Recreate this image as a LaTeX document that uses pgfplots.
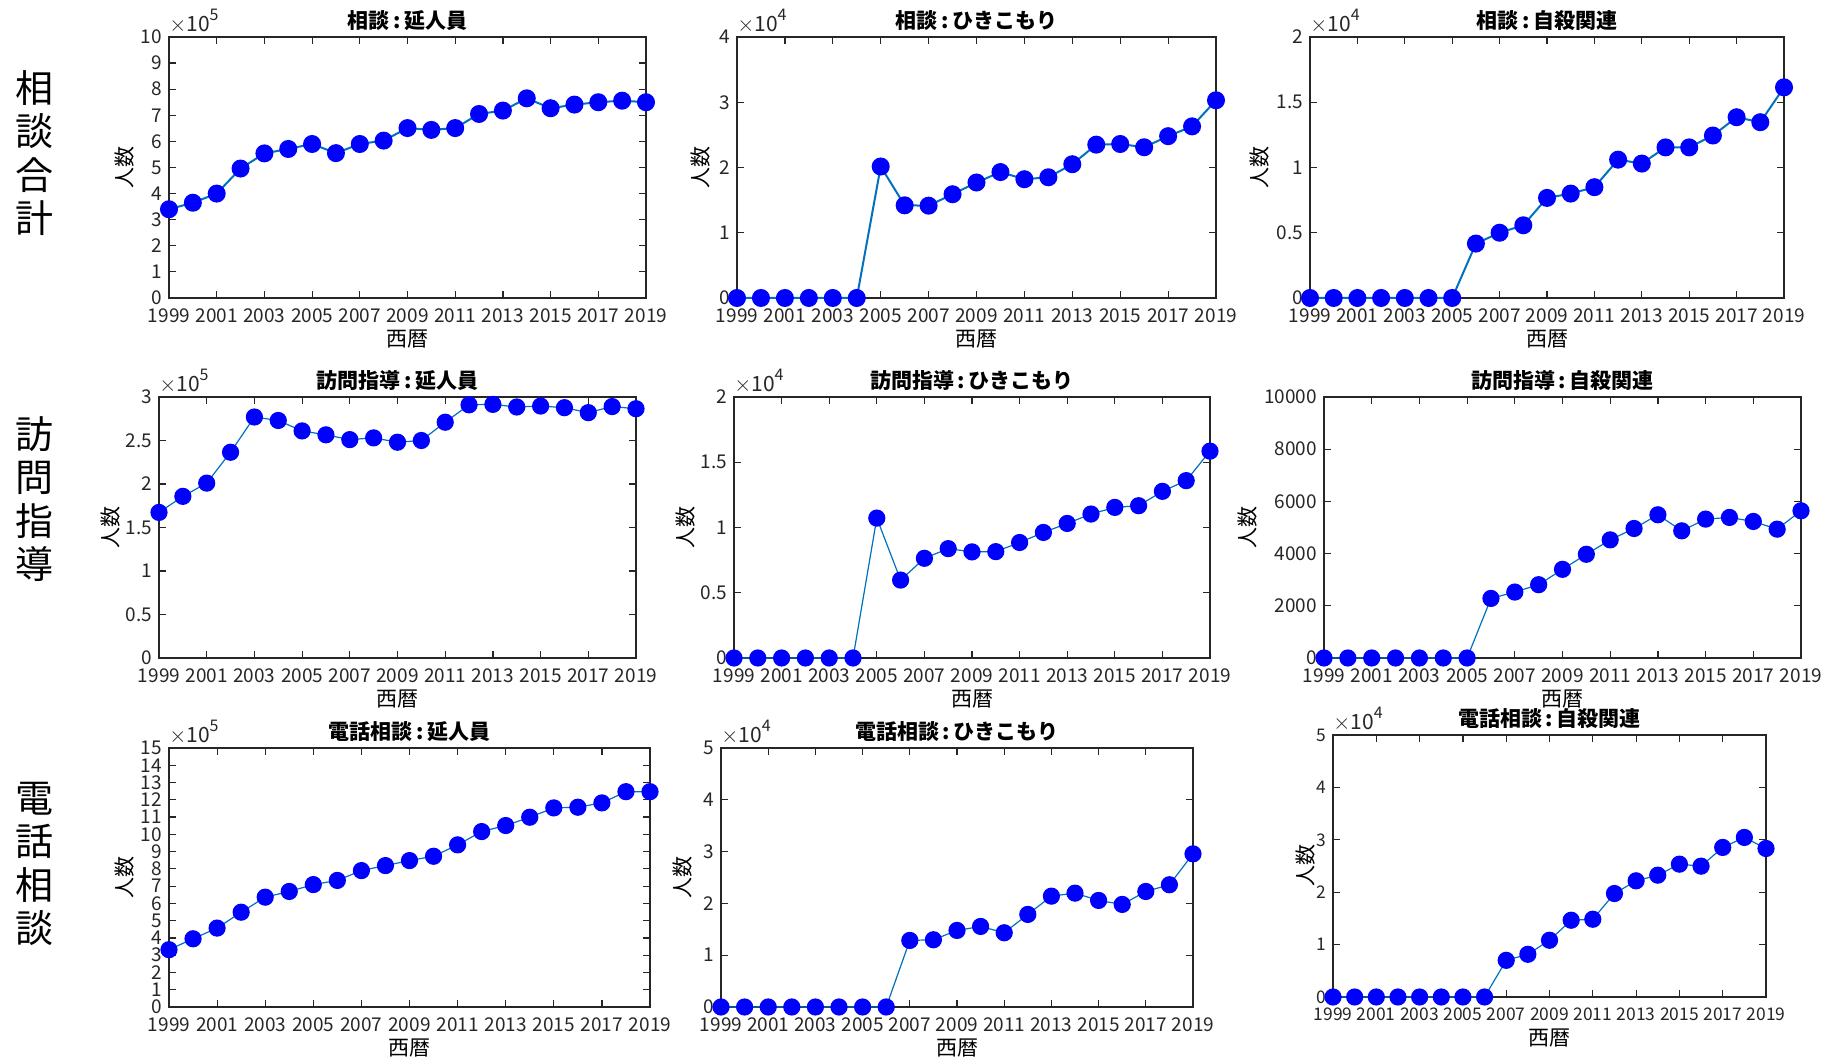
\documentclass[border=0pt]{standalone}
\usepackage{pgfplots}
\pgfplotsset{compat=1.18}
\usepackage{pgfplotstable}
\usepackage{fontspec}
\setmainfont{Noto Sans CJK JP}
\definecolor{mblue}{RGB}{0,0,255}
\definecolor{mline}{RGB}{0,114,189}
\definecolor{axg}{RGB}{38,38,38}

\pgfplotstableread{
year s1 s2 s3 s4 s5 s6 s7 s8 s9
1999 340000 0 0 167300 0 0 332000 0 0
2000 365000 0 0 185800 0 0 395000 0 0
2001 400000 0 0 201000 0 0 457000 0 0
2002 496000 0 0 236500 0 0 549000 0 0
2003 554000 0 0 277000 0 0 636000 0 0
2004 571000 0 0 273000 0 0 669000 0 0
2005 590000 20150 0 261000 10720 0 709000 0 0
2006 555000 14200 4170 256500 5970 2282 733000 0 0
2007 590000 14150 5000 251000 7640 2526 790000 12850 7000
2008 603000 15900 5570 253000 8380 2808 819000 12980 8150
2009 651000 17700 7670 248000 8130 3397 848000 14780 10830
2010 644000 19300 8000 250000 8150 3974 873000 15550 14650
2011 651000 18200 8490 271000 8850 4526 939000 14330 14840
2012 705000 18500 10600 291000 9620 4962 1016000 17870 19750
2013 718000 20500 10300 291500 10310 5487 1051000 21400 22170
2014 765000 23500 11540 288500 11030 4872 1099000 21980 23250
2015 727000 23600 11540 289600 11540 5321 1153000 20570 25350
2016 741000 23100 12450 287700 11670 5385 1157000 19800 24970
2017 750000 24800 13850 282000 12770 5231 1182000 22300 28540
2018 756000 26300 13470 289000 13590 4936 1247000 23600 30450
2019 750000 30300 16140 286500 15850 5641 1247000 29560 28340
}\data

\newcommand{\tkfont}{\fontsize{9.5}{10}\selectfont}
\pgfplotsset{
  mat/.style={
    scale only axis, clip=false,
    xmin=1999, xmax=2019, ymin=0,
    xtick={1999,2001,2003,2005,2007,2009,2011,2013,2015,2017,2019},
    tick align=inside, major tick length=3.5pt,
    axis line style={draw=axg},
    every tick/.style={draw=axg, line width=0.6pt},
    /pgf/number format/assume math mode=true,
    /pgf/number format/1000 sep={},
    tick label style={font=\tkfont, text=axg},
    x tick label style={yshift=-2pt},
    every axis title/.style={at={(rel axis cs:0.5,1)}, anchor=center, yshift=8pt, font=\fontsize{10.5}{12}\selectfont\bfseries},
    every axis x label/.style={at={(rel axis cs:0.5,0)}, anchor=center, yshift=-20.5pt, font=\fontsize{10.5}{12}\selectfont},
    every axis y label/.style={at={(rel axis cs:0,0.5)}, rotate=90, anchor=center, font=\fontsize{10.5}{12}\selectfont},
    xlabel={西暦}, ylabel={人数},
    ytick scale label code/.code={$\times$10\raisebox{1.0ex}{\fontsize{8}{8}\selectfont ##1}},
    every y tick scale label/.style={at={(rel axis cs:0,1)}, anchor=south west, inner sep=0pt, yshift=1.5pt, font=\fontsize{10.5}{11}\selectfont, text=axg},
  },
  ser/.style={color=mline, mark=*, mark size=4pt, mark options={draw=mblue, fill=mblue}},
}

\begin{document}
\begin{tikzpicture}
\path[use as bounding box] (0,0) rectangle (916pt,532pt);

% Row 1
\begin{axis}[mat, at={(84.5pt,383pt)}, anchor=south west, width=238.5pt, height=130.5pt,
  axis line style={line width=0.8pt},
  ymax=1000000, ytick={0,100000,200000,300000,400000,500000,600000,700000,800000,900000,1000000},
  scaled y ticks=base 10:-5, title={相談\,:\,延人員}, ylabel style={yshift=22pt}]
\addplot[ser, line width=1pt] table[x=year,y=s1]{\data};
\end{axis}
\begin{axis}[mat, at={(368.5pt,383pt)}, anchor=south west, width=239.5pt, height=130.5pt,
  axis line style={line width=0.8pt},
  ymax=40000, ytick={0,10000,20000,30000,40000},
  scaled y ticks=base 10:-4, title={相談\,:\,ひきこもり}, ylabel style={yshift=18pt}]
\addplot[ser, line width=1pt] table[x=year,y=s2]{\data};
\end{axis}
\begin{axis}[mat, at={(655pt,383pt)}, anchor=south west, width=237pt, height=130.5pt,
  axis line style={line width=0.8pt},
  ymax=20000, ytick={0,5000,10000,15000,20000},
  scaled y ticks=base 10:-4, title={相談\,:\,自殺関連}, ylabel style={yshift=25pt}]
\addplot[ser, line width=1pt] table[x=year,y=s3]{\data};
\end{axis}

% Row 2
\begin{axis}[mat, at={(79.5pt,203pt)}, anchor=south west, width=238.5pt, height=130.5pt,
  axis line style={line width=0.6pt},
  ymax=300000, ytick={0,50000,100000,150000,200000,250000,300000},
  scaled y ticks=base 10:-5, title={訪問指導\,:\,延人員}, ylabel style={yshift=24pt}]
\addplot[ser, line width=0.6pt] table[x=year,y=s4]{\data};
\end{axis}
\begin{axis}[mat, at={(367pt,203pt)}, anchor=south west, width=238pt, height=130.5pt,
  axis line style={line width=0.6pt},
  ymax=20000, ytick={0,5000,10000,15000,20000},
  scaled y ticks=base 10:-4, title={訪問指導\,:\,ひきこもり}, ylabel style={yshift=24pt}]
\addplot[ser, line width=0.6pt] table[x=year,y=s5]{\data};
\end{axis}
\begin{axis}[mat, at={(662pt,203pt)}, anchor=south west, width=238.5pt, height=130.5pt,
  axis line style={line width=0.6pt},
  ymax=10000, ytick={0,2000,4000,6000,8000,10000},
  scaled y ticks=false, title={訪問指導\,:\,自殺関連}, ylabel style={yshift=38pt}]
\addplot[ser, line width=0.6pt] table[x=year,y=s6]{\data};
\end{axis}

% Row 3
\begin{axis}[mat, at={(84.5pt,28.5pt)}, anchor=south west, width=240.5pt, height=129.5pt,
  axis line style={line width=0.6pt},
  ymax=1500000, ytick={0,100000,200000,300000,400000,500000,600000,700000,800000,900000,1000000,1100000,1200000,1300000,1400000,1500000},
  scaled y ticks=base 10:-5, title={電話相談\,:\,延人員}, ylabel style={yshift=22pt}]
\addplot[ser, line width=0.6pt] table[x=year,y=s7]{\data};
\end{axis}
\begin{axis}[mat, at={(360.5pt,28.5pt)}, anchor=south west, width=236pt, height=129.5pt,
  axis line style={line width=0.6pt},
  ymax=50000, ytick={0,10000,20000,30000,40000,50000},
  scaled y ticks=base 10:-4, title={電話相談\,:\,ひきこもり}, ylabel style={yshift=19pt}]
\addplot[ser, line width=0.6pt] table[x=year,y=s8]{\data};
\end{axis}
\begin{axis}[mat, at={(666.5pt,33.5pt)}, anchor=south west, width=216.5pt, height=131pt,
  axis line style={line width=0.6pt},
  tick label style={font=\fontsize{8.7}{9}\selectfont},
  ymax=50000, ytick={0,10000,20000,30000,40000,50000},
  scaled y ticks=base 10:-4, title={電話相談\,:\,自殺関連}, ylabel style={yshift=13.5pt}]
\addplot[ser, line width=0.6pt] table[x=year,y=s9]{\data};
\end{axis}

% Row labels
\node[font=\fontsize{19}{21.75}\selectfont, align=center] at (17.5pt,455.5pt) {相\\談\\合\\計};
\node[font=\fontsize{19}{21.75}\selectfont, align=center] at (17.5pt,282.5pt) {訪\\問\\指\\導};
\node[font=\fontsize{19}{21.75}\selectfont, align=center] at (17.5pt,100pt) {電\\話\\相\\談};
\end{tikzpicture}
\end{document}
